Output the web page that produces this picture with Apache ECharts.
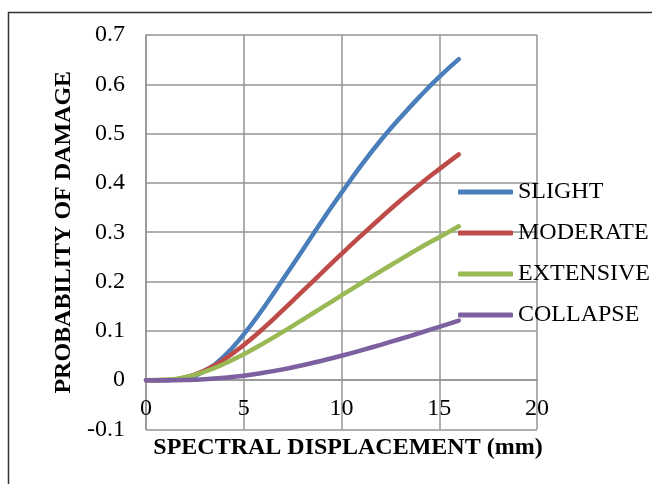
<!DOCTYPE html>
<html>
<head>
<meta charset="utf-8">
<script src="https://cdn.jsdelivr.net/npm/echarts@6/dist/echarts.min.js"></script>
<style>
html,body{margin:0;padding:0;background:#fff;}
#chart{width:652px;height:484px;}
</style>
</head>
<body>
<div id="chart"></div>
<script>
const xValues = [0,1,2,3,4,5,6,7,8,9,10,11,12,13,14,15,16];
const slight    = [0,0.0001,0.0038,0.019,0.049,0.093,0.146,0.204,0.263,0.323,0.380,0.435,0.486,0.532,0.575,0.615,0.651];
const moderate  = [0,0.0004,0.0056,0.0196,0.042,0.0714,0.105,0.142,0.180,0.218,0.256,0.293,0.329,0.364,0.397,0.428,0.458];
const extensive = [0,0.0007,0.006,0.0172,0.0332,0.0527,0.0746,0.098,0.1224,0.147,0.172,0.1966,0.221,0.2446,0.268,0.290,0.312];
const collapse  = [0,0.00003,0.0005,0.002,0.0049,0.0092,0.015,0.022,0.0302,0.0395,0.0495,0.0603,0.0717,0.0835,0.0957,0.1083,0.121];
const seriesNames = ['SLIGHT','MODERATE','EXTENSIVE','COLLAPSE'];
const seriesData = [slight, moderate, extensive, collapse];
const colors = ['#4A7EBB','#BE4B48','#98B954','#7D60A0'];
const xTitle = 'SPECTRAL DISPLACEMENT (mm)';
const yTitle = 'PROBABILITY OF DAMAGE';

const font = 'Liberation Serif';
const gridColor = '#949494';
const gridTop = 35, gridBottom = 54.5, chartH = 484;
const plotH = chartH - gridTop - gridBottom;
const yMin = -0.1, yMax = 0.7;
// shift the x axis up so it sits on the y = 0 line
const xAxisOffset = -plotH * (0 - yMin) / (yMax - yMin);

const chart = echarts.init(document.getElementById('chart'));
chart.setOption({
  animation: false,
  graphic: [{
    type: 'rect', left: 6, top: 10,
    shape: {width: 700, height: 520},
    style: {fill: 'none', stroke: '#333', lineWidth: 1.5},
    silent: true
  }],
  grid: {left: 146, top: gridTop, right: 115, bottom: gridBottom, containLabel: false, outerBoundsMode: 'none'},
  legend: {
    orient: 'vertical',
    left: 453, top: 175,
    data: seriesNames,
    icon: 'roundRect',
    itemWidth: 55, itemHeight: 5,
    itemGap: 17, itemTextGap: 5,
    textStyle: {fontFamily: font, fontSize: 24, color: '#000', lineHeight: 24}
  },
  xAxis: {
    type: 'value', min: 0, max: 20, interval: 5,
    position: 'bottom', offset: xAxisOffset,
    axisLine: {onZero: false, lineStyle: {color: gridColor, width: 1.5}},
    axisTick: {show: false},
    splitLine: {show: true, lineStyle: {color: gridColor, width: 1.5}},
    axisLabel: {fontFamily: font, fontSize: 24, color: '#000', margin: 17},
    name: xTitle, nameLocation: 'middle', nameGap: 56,
    nameTextStyle: {fontFamily: font, fontSize: 24, fontWeight: 'bold', color: '#000', padding: [0,0,0,13]}
  },
  yAxis: {
    type: 'value', min: yMin, max: yMax, interval: 0.1,
    axisLine: {show: true, onZero: false, lineStyle: {color: gridColor, width: 1.5}},
    axisTick: {show: false},
    splitLine: {show: true, lineStyle: {color: gridColor, width: 1.5}},
    axisLabel: {fontFamily: font, fontSize: 24, color: '#000', margin: 21,
      formatter: v => { const r = Math.round(v*10)/10; return r === 0 ? '0' : String(r); }},
    name: yTitle, nameLocation: 'middle', nameGap: 65, nameRotate: 90,
    nameTextStyle: {fontFamily: font, fontSize: 24, fontWeight: 'bold', color: '#000'}
  },
  series: seriesNames.map((n, i) => ({
    name: n, type: 'line', smooth: true, symbol: 'none',
    data: xValues.map((x, j) => [x, seriesData[i][j]]),
    lineStyle: {color: colors[i], width: 4.5, cap: 'round'},
    itemStyle: {color: colors[i]}
  }))
});
</script>
</body>
</html>
